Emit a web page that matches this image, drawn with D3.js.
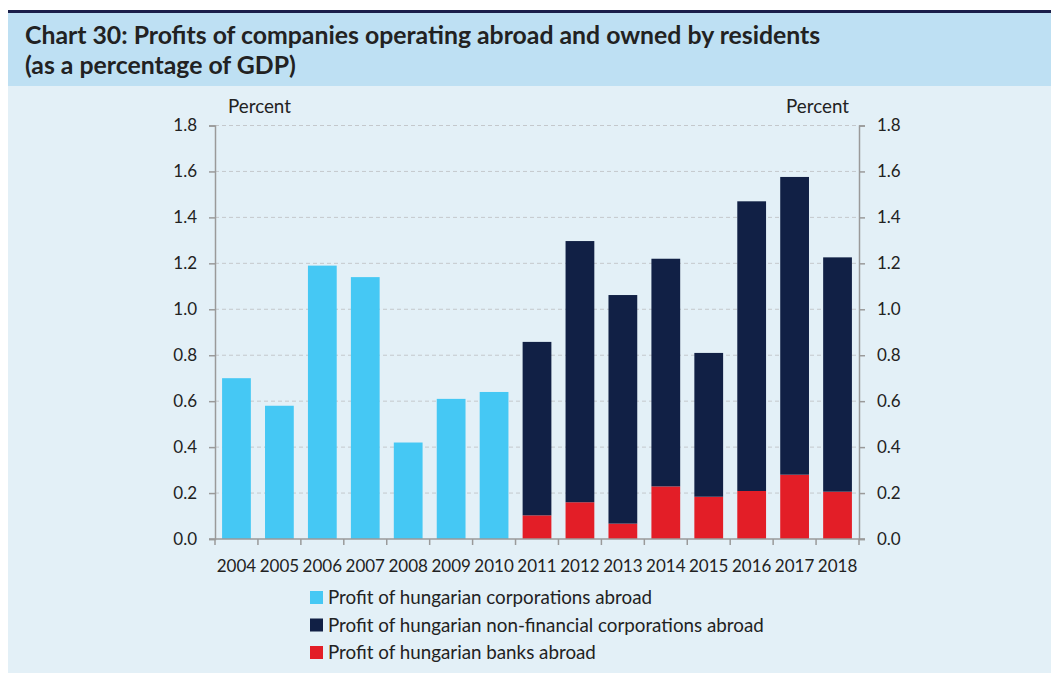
<!DOCTYPE html>
<html>
<head>
<meta charset="utf-8">
<script src="https://cdn.jsdelivr.net/npm/d3@7"></script>
<style>
  body { margin: 0; background: #fff; }
  svg { display: block; font-family: Lato, "Open Sans", sans-serif; }
</style>
</head>
<body>
<div id="chart"></div>
<script>
// Data
const years = ["2004", "2005", "2006", "2007", "2008", "2009", "2010", "2011",
  "2012", "2013", "2014", "2015", "2016", "2017", "2018"];
const corporations = [0.70, 0.58, 1.19, 1.14, 0.42, 0.61, 0.64, 0, 0, 0, 0, 0, 0, 0, 0];
const nonFinancial = [0, 0, 0, 0, 0, 0, 0, 0.755, 1.137, 0.995, 0.991, 0.626, 1.261, 1.296, 1.020];
const banks = [0, 0, 0, 0, 0, 0, 0, 0.103, 0.160, 0.067, 0.229, 0.184, 0.209, 0.280, 0.206];
const yTicks = [0, 0.2, 0.4, 0.6, 0.8, 1.0, 1.2, 1.4, 1.6, 1.8];
const seriesNames = [
  "Profit of hungarian corporations abroad",
  "Profit of hungarian non-financial corporations abroad",
  "Profit of hungarian banks abroad"
];
const colors = ["#45c8f4", "#112045", "#e31e27"];

const width = 1051, height = 673;
const margin = { left: 215, right: 192, top: 125.5, bottom: 134 };

const svg = d3.select("#chart").append("svg")
  .attr("width", width)
  .attr("height", height);

// backgrounds
svg.append("rect").attr("x", 8).attr("y", 12).attr("width", width - 8).attr("height", 74)
  .attr("fill", "#bee0f3");
svg.append("rect").attr("x", 8).attr("y", 86).attr("width", width - 8).attr("height", height - 86)
  .attr("fill", "#e3f0f7");
svg.append("rect").attr("x", 8).attr("y", 10).attr("width", width - 8).attr("height", 3)
  .attr("fill", "#1b1f4a");

// title
const title = svg.append("text")
  .attr("fill", "#222")
  .style("font-weight", "bold")
  .style("font-size", "24.8px");
title.append("tspan").attr("x", 25).attr("y", 44)
  .text("Chart 30: Profits of companies operating abroad and owned by residents");
title.append("tspan").attr("x", 25).attr("y", 74)
  .text("(as a percentage of GDP)");

const x = d3.scaleBand()
  .domain(years)
  .range([margin.left, width - margin.right])
  .paddingInner(0.33)
  .paddingOuter(0.165);

const y = d3.scaleLinear()
  .domain([0, 1.8])
  .range([height - margin.bottom, margin.top]);

// grid
svg.append("g")
  .selectAll("line")
  .data(yTicks.slice(1))
  .join("line")
  .attr("x1", margin.left)
  .attr("x2", width - margin.right)
  .attr("y1", d => y(d))
  .attr("y2", d => y(d))
  .attr("stroke", "#c4c8cc")
  .attr("stroke-width", 1)
  .attr("stroke-dasharray", "4,3");

// stacked bars
const rows = years.map((yr, i) => ({ year: yr, c: corporations[i], n: nonFinancial[i], b: banks[i] }));
const stack = d3.stack().keys(["c", "b", "n"])(rows);
const keyColor = { c: colors[0], n: colors[1], b: colors[2] };

svg.append("g")
  .selectAll("g")
  .data(stack)
  .join("g")
  .attr("fill", d => keyColor[d.key])
  .selectAll("rect")
  .data(d => d.filter(p => p[1] - p[0] > 0))
  .join("rect")
  .attr("x", d => x(d.data.year))
  .attr("width", x.bandwidth())
  .attr("y", d => y(d[1]))
  .attr("height", d => y(d[0]) - y(d[1]));

// axes
const axisColor = "#9a9a9a";
const styleAxis = g => {
  g.selectAll(".domain").attr("stroke", axisColor).attr("stroke-width", 1.5);
  g.selectAll(".tick line").attr("stroke", axisColor).attr("stroke-width", 1.5);
  g.selectAll(".tick text").attr("fill", "#222").style("font-size", "17px")
    .style("font-family", "Lato, sans-serif");
};

svg.append("g")
  .attr("transform", `translate(${margin.left},0)`)
  .call(d3.axisLeft(y).tickValues(yTicks).tickFormat(d3.format(".1f")).tickSizeOuter(0).tickSize(6).tickPadding(12))
  .call(styleAxis);

svg.append("g")
  .attr("transform", `translate(${width - margin.right},0)`)
  .call(d3.axisRight(y).tickValues(yTicks).tickFormat(d3.format(".1f")).tickSizeOuter(0).tickSize(6).tickPadding(12))
  .call(styleAxis);

// x axis with ticks at category boundaries
const xAxisG = svg.append("g")
  .attr("transform", `translate(0,${y(0)})`);
xAxisG.append("line")
  .attr("x1", margin.left - 6).attr("x2", width - margin.right + 6)
  .attr("stroke", axisColor).attr("stroke-width", 1.5);
const step = x.step();
xAxisG.selectAll("line.tk")
  .data(d3.range(years.length + 1))
  .join("line")
  .attr("class", "tk")
  .attr("x1", i => margin.left + i * step)
  .attr("x2", i => margin.left + i * step)
  .attr("y1", 0).attr("y2", 6)
  .attr("stroke", axisColor).attr("stroke-width", 1.5);
xAxisG.selectAll("text")
  .data(years)
  .join("text")
  .attr("x", d => x(d) + x.bandwidth() / 2)
  .attr("y", 33)
  .attr("text-anchor", "middle")
  .attr("fill", "#222")
  .style("font-size", "17px")
  .text(d => d);

// unit labels
svg.append("text").attr("x", 228).attr("y", 113).attr("fill", "#222")
  .style("font-size", "18.8px").text("Percent");
svg.append("text").attr("x", 849).attr("y", 113).attr("fill", "#222")
  .attr("text-anchor", "end").style("font-size", "18.8px").text("Percent");

// legend
const legend = svg.append("g").attr("transform", "translate(310,591)");
const item = legend.selectAll("g")
  .data(seriesNames)
  .join("g")
  .attr("transform", (d, i) => `translate(0,${i * 27.5})`);
item.append("rect")
  .attr("width", 13).attr("height", 13)
  .attr("fill", (d, i) => colors[i]);
item.append("text")
  .attr("x", 18).attr("y", 13)
  .attr("fill", "#222")
  .style("font-size", "18.8px")
  .text(d => d);
</script>
</body>
</html>
